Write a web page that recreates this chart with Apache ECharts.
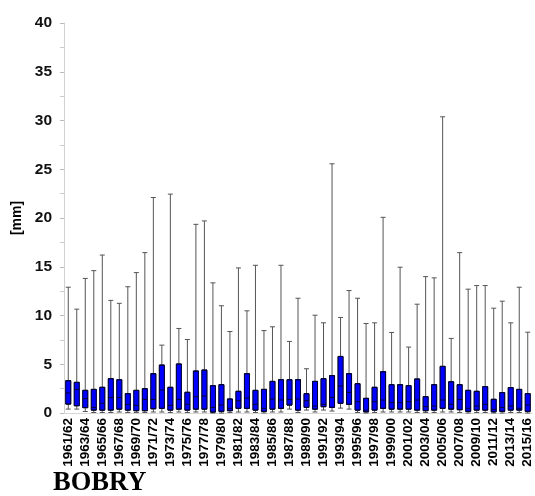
<!DOCTYPE html>
<html>
<head>
<meta charset="utf-8">
<script src="https://cdn.jsdelivr.net/npm/echarts@6/dist/echarts.min.js"></script>
<style>
html,body{margin:0;padding:0;background:#fff;}
#c{width:535px;height:496px;}
</style>
</head>
<body>
<div id="c"></div>
<script>
var seasons = ['1961/62','1962/63','1963/64','1964/65','1965/66','1966/67','1967/68','1968/69','1969/70','1970/71',
'1971/72','1972/73','1973/74','1974/75','1975/76','1976/77','1977/78','1978/79','1979/80','1980/81',
'1981/82','1982/83','1983/84','1984/85','1985/86','1986/87','1987/88','1988/89','1989/90','1990/91',
'1991/92','1992/93','1993/94','1994/95','1995/96','1996/97','1997/98','1998/99','1999/00','2000/01',
'2001/02','2002/03','2003/04','2004/05','2005/06','2006/07','2007/08','2008/09','2009/10','2010/11',
'2011/12','2012/13','2013/14','2014/15','2015/16'];
var minVals = [0.4,0.4,0.15,0.05,0.05,0.05,0.1,0.05,0.05,0.05,
0.1,0.1,0.05,0.1,0.05,0.1,0.1,0.0,0.0,0.05,
0.1,0.1,0.05,0.0,0.1,0.1,0.4,0.05,0.3,0.1,
0.3,0.2,0.5,0.4,0.05,0.0,0.05,0.1,0.1,0.1,
0.1,0.05,0.05,0.05,0.1,0.1,0.05,0.0,0.05,0.05,
0.0,0.0,0.05,0.05,0.0];
var q1Vals = [0.92,0.75,0.55,0.3,0.3,0.3,0.4,0.3,0.24,0.24,
0.44,0.48,0.3,0.4,0.3,0.4,0.4,0.1,0.17,0.24,
0.48,0.48,0.3,0.17,0.4,0.48,0.82,0.3,0.58,0.4,
0.65,0.58,1.0,0.89,0.3,0.13,0.3,0.48,0.4,0.4,
0.4,0.3,0.24,0.3,0.48,0.4,0.34,0.17,0.3,0.3,
0.13,0.17,0.3,0.3,0.17];
var medianVals = [2.05,2.42,1.47,0.58,1.0,1.6,1.6,0.89,0.79,1.4,
1.4,2.36,0.79,1.4,0.89,1.67,1.74,0.58,0.82,0.48,
1.26,1.54,0.89,0.48,1.43,1.33,1.4,1.43,1.26,0.72,
0.89,1.6,2.76,2.12,1.16,0.3,1.16,1.33,1.06,1.06,
1.16,1.33,0.65,0.72,1.33,0.89,1.4,0.48,0.72,0.89,
0.38,0.58,0.72,0.48,0.82];
var q3Vals = [3.31,3.14,2.32,2.42,2.63,3.52,3.41,1.98,2.32,2.49,
4.03,4.91,2.63,5.02,2.12,4.3,4.4,2.8,2.9,1.43,
2.22,4.03,2.32,2.42,3.24,3.41,3.41,3.41,1.98,3.24,
3.52,3.83,5.8,4.03,3.0,1.5,2.63,4.23,2.9,2.9,
2.8,3.48,1.67,2.9,4.78,3.2,2.9,2.32,2.22,2.7,
1.4,2.09,2.6,2.42,1.98];
var maxVals = [12.9,10.65,13.8,14.6,16.2,11.55,11.25,12.95,14.4,16.45,
22.1,6.96,22.45,8.67,7.54,19.35,19.7,13.35,11.0,8.36,
14.88,10.48,15.15,8.45,8.84,15.15,7.34,11.77,4.54,10.03,
9.25,25.56,9.8,12.56,11.77,9.18,9.25,20.07,8.26,14.95,
6.76,11.16,13.99,13.86,30.38,7.65,16.45,12.7,13.07,13.07,
10.75,11.47,9.25,12.9,8.29];
var yMin = 0, yMax = 40, yStep = 5;
var stationName = 'BOBRY';
var yAxisName = '[mm]';

var whiskerData = seasons.map(function(s,i){return [minVals[i],q1Vals[i],medianVals[i],q3Vals[i],maxVals[i]];});
var boxData = seasons.map(function(s,i){return [q1Vals[i],q1Vals[i],medianVals[i],q3Vals[i],q3Vals[i]];});

var chart = echarts.init(document.getElementById('c'), null, {renderer:'canvas'});
chart.setOption({
  animation:false,
  backgroundColor:'#fff',
  grid:{left:64,right:3,top:23,bottom:83,containLabel:false},
  xAxis:[{
    type:'category', data:seasons, boundaryGap:true,
    axisLine:{show:true,lineStyle:{color:'#d8d8d8',width:1}},
    axisTick:{show:false},
    axisLabel:{interval:1,rotate:90,margin:5,fontSize:13.5,fontWeight:'bold',color:'#000',fontFamily:'Liberation Sans, Arial, sans-serif'},
    splitLine:{show:false}
  },{
    type:'category', data:seasons, boundaryGap:true, show:false
  }],
  yAxis:{
    type:'value', min:yMin, max:yMax, interval:yStep,
    name:yAxisName, nameLocation:'middle', nameRotate:90, nameGap:40,
    nameTextStyle:{fontSize:14,fontWeight:'bold',color:'#000',fontFamily:'Liberation Sans, Arial, sans-serif'},
    axisLine:{show:true,lineStyle:{color:'#d0d0d0',width:1}},
    axisTick:{show:true,length:4,lineStyle:{color:'#bbb'}},
    minorTick:{show:true,splitNumber:2,length:4,lineStyle:{color:'#ccc'}},
    splitLine:{show:false},
    axisLabel:{fontSize:15.5,fontWeight:'bold',color:'#111',margin:12,fontFamily:'Liberation Sans, Arial, sans-serif'}
  },
  series:[{
    type:'boxplot', xAxisIndex:0, data:whiskerData, boxWidth:[5,5],
    itemStyle:{color:'#0000ff',borderColor:'#555',borderWidth:1},
    emphasis:{disabled:true}, z:2
  },{
    type:'boxplot', xAxisIndex:1, data:boxData, boxWidth:[5,5],
    itemStyle:{color:'#0000ff',borderColor:'#000033',borderWidth:1},
    emphasis:{disabled:true}, z:3
  }],
  graphic:[{
    type:'text', left:53, top:470,
    style:{text:stationName,font:'bold 26.5px "Liberation Serif", "Times New Roman", serif',fill:'#000'}
  }]
});
</script>
</body>
</html>
